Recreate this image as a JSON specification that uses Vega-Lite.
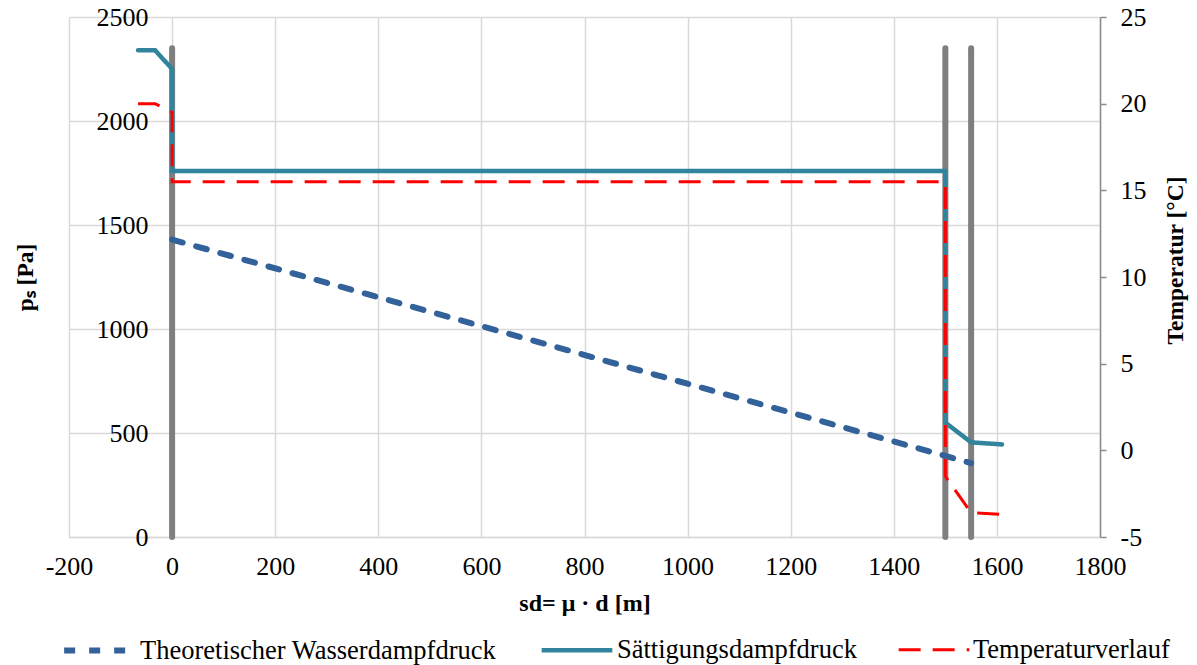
{
  "$schema": "https://vega.github.io/schema/vega-lite/v6.json",
  "width": 1031,
  "height": 520,
  "autosize": "none",
  "padding": {"left": 69, "top": 17, "right": 97, "bottom": 128},
  "background": "white",
  "config": {
    "font": "Liberation Serif",
    "view": {"stroke": null},
    "axis": {
      "labelFont": "Liberation Serif",
      "titleFont": "Liberation Serif",
      "labelFontSize": 26,
      "titleFontSize": 23.5,
      "labelColor": "#000000",
      "titleColor": "#000000",
      "titleFontWeight": "bold",
      "gridColor": "#d9d9d9",
      "gridWidth": 1.5
    },
    "legend": {
      "labelFont": "Liberation Serif",
      "labelFontSize": 26.5,
      "labelColor": "#000000",
      "labelLimit": 0
    }
  },
  "datasets": {
    "bars": [
      {"x": 0, "lo": 0, "hi": 2350},
      {"x": 1500, "lo": 0, "hi": 2350},
      {"x": 1550, "lo": 0, "hi": 2350}
    ],
    "left": [
      {"series": "Theoretischer Wasserdampfdruck", "i": 1, "x": 0, "v": 1430},
      {"series": "Theoretischer Wasserdampfdruck", "i": 2, "x": 1500, "v": 390},
      {"series": "Theoretischer Wasserdampfdruck", "i": 3, "x": 1550, "v": 355},
      {"series": "Sättigungsdampfdruck", "i": 1, "x": -66, "v": 2340},
      {"series": "Sättigungsdampfdruck", "i": 2, "x": -33, "v": 2340},
      {"series": "Sättigungsdampfdruck", "i": 3, "x": 0, "v": 2250},
      {"series": "Sättigungsdampfdruck", "i": 4, "x": 0, "v": 1760},
      {"series": "Sättigungsdampfdruck", "i": 5, "x": 1500, "v": 1760},
      {"series": "Sättigungsdampfdruck", "i": 6, "x": 1500, "v": 550},
      {"series": "Sättigungsdampfdruck", "i": 7, "x": 1550, "v": 455},
      {"series": "Sättigungsdampfdruck", "i": 8, "x": 1610, "v": 445}
    ],
    "temp": [
      {"series": "Temperaturverlauf", "i": 1, "x": -66, "v": 20},
      {"series": "Temperaturverlauf", "i": 2, "x": -33, "v": 20},
      {"series": "Temperaturverlauf", "i": 3, "x": 0, "v": 19.5},
      {"series": "Temperaturverlauf", "i": 4, "x": 0, "v": 15.5},
      {"series": "Temperaturverlauf", "i": 5, "x": 1500, "v": 15.5},
      {"series": "Temperaturverlauf", "i": 6, "x": 1500, "v": -1.5},
      {"series": "Temperaturverlauf", "i": 7, "x": 1550, "v": -3.6},
      {"series": "Temperaturverlauf", "i": 8, "x": 1610, "v": -3.7}
    ]
  },
  "encoding": {
    "x": {
      "field": "x",
      "type": "quantitative",
      "scale": {"domain": [-200, 1800], "nice": false, "zero": false},
      "axis": {
        "title": "sd= μ · d [m]",
        "titleFontSize": 24,
        "values": [-200, 0, 200, 400, 600, 800, 1000, 1200, 1400, 1600, 1800],
        "labelExpr": "'' + datum.value",
        "grid": true,
        "ticks": false,
        "domain": true,
        "domainColor": "#d9d9d9",
        "domainWidth": 1.5,
        "labelPadding": 16,
        "titlePadding": 12,
        "labelFlush": false,
        "labelOverlap": false
      }
    }
  },
  "layer": [
    {
      "data": {"name": "bars"},
      "mark": {"type": "rule", "color": "#7f7f7f", "strokeWidth": 6, "strokeCap": "round"},
      "encoding": {
        "y": {"field": "lo", "type": "quantitative", "axis": null, "scale": {"domain": [0, 2500], "nice": false}},
        "y2": {"field": "hi"}
      }
    },
    {
      "data": {"name": "left"},
      "mark": {"type": "line", "strokeCap": "round"},
      "encoding": {
        "y": {
          "field": "v",
          "type": "quantitative",
          "scale": {"domain": [0, 2500], "nice": false},
          "axis": {
            "title": "pₛ [Pa]",
            "values": [0, 500, 1000, 1500, 2000, 2500],
            "labelExpr": "'' + datum.value",
            "grid": true,
            "domain": false,
            "ticks": false,
            "offset": -103,
            "labelPadding": 24,
            "titleX": -147,
            "titleY": 260,
            "titleAlign": "center",
            "titleBaseline": "middle",
            "titleAngle": -90
          }
        },
        "order": {"field": "i", "type": "quantitative"},
        "color": {
          "field": "series",
          "type": "nominal",
          "scale": {"domain": ["Theoretischer Wasserdampfdruck", "Sättigungsdampfdruck", "Temperaturverlauf"], "range": ["#33619a", "#31849b", "#ff0000"]},
          "legend": {
            "title": null,
            "orient": "none",
            "direction": "horizontal",
            "legendX": -8,
            "legendY": 595,
            "symbolType": "stroke",
            "symbolSize": 5000,
            "labelOffset": 2,
            "columnPadding": 35
          }
        },
        "strokeDash": {
          "field": "series",
          "type": "nominal",
          "scale": {"domain": ["Theoretischer Wasserdampfdruck", "Sättigungsdampfdruck", "Temperaturverlauf"], "range": [[11, 14], [1, 0], [22, 12]]},
          "legend": {
            "title": null,
            "orient": "none",
            "direction": "horizontal",
            "legendX": -8,
            "legendY": 595,
            "symbolType": "stroke",
            "symbolSize": 5000,
            "labelOffset": 2,
            "columnPadding": 35
          }
        },
        "strokeWidth": {
          "field": "series",
          "type": "ordinal",
          "scale": {"domain": ["Theoretischer Wasserdampfdruck", "Sättigungsdampfdruck", "Temperaturverlauf"], "range": [6, 3, 3.5]},
          "legend": {
            "title": null,
            "orient": "none",
            "direction": "horizontal",
            "legendX": -8,
            "legendY": 595,
            "symbolType": "stroke",
            "symbolSize": 5000,
            "labelOffset": 2,
            "columnPadding": 35
          }
        }
      }
    },
    {
      "data": {"name": "temp"},
      "mark": {"type": "line", "strokeCap": "butt"},
      "encoding": {
        "y": {
          "field": "v",
          "type": "quantitative",
          "scale": {"domain": [-5, 25], "nice": false, "zero": false},
          "axis": {
            "orient": "right",
            "title": "Temperatur [°C]",
            "values": [-5, 0, 5, 10, 15, 20, 25],
            "labelExpr": "'' + datum.value",
            "grid": false,
            "domain": true,
            "domainColor": "#8c8c8c",
            "domainWidth": 1.5,
            "ticks": true,
            "tickColor": "#8c8c8c",
            "tickWidth": 1.5,
            "tickSize": 6,
            "labelPadding": 14,
            "titleX": 75,
            "titleY": 243,
            "titleAlign": "center",
            "titleBaseline": "middle",
            "titleAngle": 270
          }
        },
        "order": {"field": "i", "type": "quantitative"},
        "color": {
          "field": "series",
          "type": "nominal",
          "scale": {"domain": ["Theoretischer Wasserdampfdruck", "Sättigungsdampfdruck", "Temperaturverlauf"], "range": ["#33619a", "#31849b", "#ff0000"]}
        },
        "strokeDash": {
          "field": "series",
          "type": "nominal",
          "scale": {"domain": ["Theoretischer Wasserdampfdruck", "Sättigungsdampfdruck", "Temperaturverlauf"], "range": [[11, 14], [1, 0], [22, 12]]}
        },
        "strokeWidth": {
          "field": "series",
          "type": "ordinal",
          "scale": {"domain": ["Theoretischer Wasserdampfdruck", "Sättigungsdampfdruck", "Temperaturverlauf"], "range": [6, 3, 3.5]}
        }
      }
    }
  ],
  "resolve": {"scale": {"y": "independent"}}
}
